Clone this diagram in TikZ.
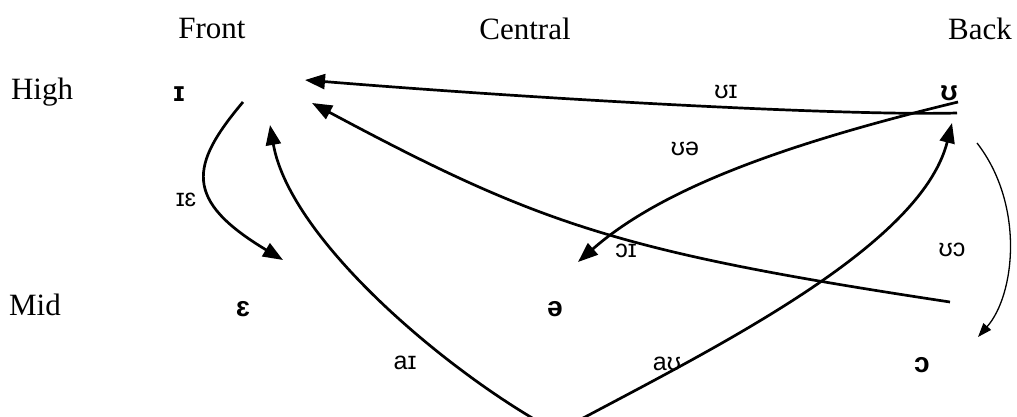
\documentclass[tikz,border=0pt]{standalone}
\usepackage{fontspec}
\setmainfont{Liberation Serif}
\newfontfamily\ipafont{Liberation Sans}
\usetikzlibrary{arrows.meta}
\begin{document}
\begin{tikzpicture}[x=1pt,y=-1pt,
  hdr/.style={font=\fontsize{31}{31}\selectfont, inner sep=0pt},
  vow/.style={font=\ipafont\bfseries\fontsize{28}{28}\selectfont, inner sep=0pt},
  lab/.style={font=\ipafont\fontsize{25}{25}\selectfont, inner sep=0pt},
  arr/.style={line width=2.7pt, -{Triangle[length=20pt,width=15pt]}},
  thinarr/.style={line width=1.3pt, -{Triangle[length=14pt,width=10pt]}}]
\useasboundingbox (0,0) rectangle (1017,417);
% headers
\node[hdr] (front) at (212,29) {Front};
\node[hdr] (central) at (525,29) {Central};
\node[hdr] (back) at (980,29) {Back};
\node[hdr] (high) at (42,92) {High};
\node[hdr] (mid) at (35,305) {Mid};
% vowels
\node[vow] (vI) at (179,94) {ɪ};
\node[vow] (vU) at (949,93) {ʊ};
\node[vow] (vE) at (243,309) {ɛ};
\node[vow] (vSchwa) at (555,309) {ə};
\node[vow] (vO) at (922,365) {ɔ};
% labels
\node[lab] (lUI) at (726,92) {ʊɪ};
\node[lab] (lUe) at (685,149) {ʊə};
\node[lab] (lIE) at (186,200) {ɪɛ};
\node[lab] (lOI) at (626,251) {ɔɪ};
\node[lab] (lUO) at (952,250) {ʊɔ};
\node[lab] (lAI) at (405,363) {aɪ};
\node[lab] (lAU) at (667,364) {aʊ};
% connector end points
\coordinate (uiS) at (957,113);
\coordinate (uiE) at (305,80);
\coordinate (oiS) at (950,302);
\coordinate (oiE) at (312,103);
\coordinate (ueS) at (958,102);
\coordinate (ueE) at (578,262);
\coordinate (ieS) at (243,102);
\coordinate (ieE) at (283,260);
\coordinate (base) at (557,432);
\coordinate (aiE) at (270,125);
\coordinate (auE) at (952,123);
\coordinate (uoS) at (977,143);
\coordinate (uoE) at (978,337);
% connectors
\begin{scope}
\clip (0,0) rectangle (1017,417);
\draw[arr] (uiS) .. controls (850,116) and (550,100) .. (uiE);
\draw[arr] (oiS) .. controls (620,252) and (540,225) .. (oiE);
\draw[arr] (ueS) .. controls (780,145) and (660,190) .. (ueE);
\draw[arr] (ieS) .. controls (190,165) and (183,200) .. (ieE);
\draw[arr] (base) .. controls (450,375) and (290,240) .. (aiE);
\draw[arr] (base) .. controls (700,355) and (920,250) .. (auE);
\draw[thinarr] (uoS) .. controls (1025,205) and (1015,295) .. (uoE);
\end{scope}
\end{tikzpicture}
\end{document}
